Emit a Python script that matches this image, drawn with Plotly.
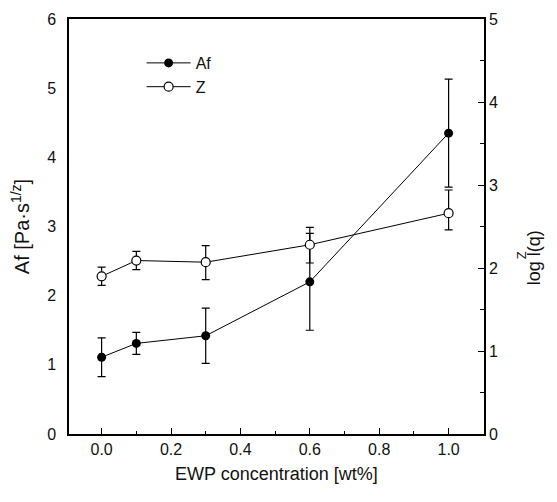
"""Af and Z versus EWP concentration, dual y axes."""
import plotly.graph_objects as go

# data
ewp = [0.0, 0.1, 0.3, 0.6, 1.0]
af = [1.11, 1.31, 1.42, 2.20, 4.35]
af_err = [0.28, 0.16, 0.40, 0.70, 0.78]
z = [1.90, 2.09, 2.07, 2.28, 2.66]
z_err_up = [0.11, 0.11, 0.20, 0.21, 0.28]
z_err_down = [0.11, 0.11, 0.21, 0.22, 0.20]

left_ticks = [0, 1, 2, 3, 4, 5, 6]
right_ticks = [0, 1, 2, 3, 4, 5]
x_ticks = [0.0, 0.2, 0.4, 0.6, 0.8, 1.0]
x_labels = ["0.0", "0.2", "0.4", "0.6", "0.8", "1.0"]

FONT = "Liberation Sans, Arial, sans-serif"

fig = go.Figure()
fig.add_trace(go.Scatter(
    x=ewp, y=af, name="Af", mode="lines+markers",
    line=dict(color="black", width=1),
    marker=dict(symbol="circle", size=9, color="black"),
    error_y=dict(type="data", array=af_err, color="black", thickness=1.2, width=4),
    yaxis="y",
))
fig.add_trace(go.Scatter(
    x=ewp, y=z, name="Z", mode="lines+markers",
    line=dict(color="black", width=1),
    marker=dict(symbol="circle", size=9, color="white",
                line=dict(color="black", width=1.2)),
    error_y=dict(type="data", symmetric=False, array=z_err_up,
                 arrayminus=z_err_down, color="black", thickness=1.2, width=4),
    yaxis="y2",
))

tick_style = dict(ticks="inside", ticklen=6, tickwidth=1.2, tickcolor="black",
                  minor=dict(dtick=0.5, ticks="inside", ticklen=4, tickcolor="black"))

# the page body has an 8px margin, so the figure is 8px smaller than the window
fig.update_layout(
    width=549, height=494,
    margin=dict(l=61, r=73, t=11, b=68),
    paper_bgcolor="white", plot_bgcolor="white",
    font=dict(family=FONT, size=16, color="#111"),
    showlegend=True,
    legend=dict(x=0.175, y=0.935, xanchor="left", yanchor="top",
                bgcolor="rgba(0,0,0,0)", font=dict(size=16),
                itemwidth=44, tracegroupgap=0),
    xaxis=dict(
        range=[-0.094, 1.102], tickvals=x_ticks, ticktext=x_labels,
        ticks="inside", ticklen=6, tickwidth=1.2, tickcolor="black",
        minor=dict(dtick=0.1, ticks="inside", ticklen=3, tickcolor="black"),
        showline=True, linecolor="black", linewidth=1.5, mirror=True,
        showgrid=False, zeroline=False, automargin=False,
        title=dict(text="EWP concentration [wt%]", font=dict(size=18), standoff=10),
    ),
    yaxis=dict(
        range=[0, 6], tickvals=left_ticks, ticks="",
        ticklabelstandoff=8,
        showline=True, linecolor="black", linewidth=1.5,
        showgrid=False, zeroline=False, automargin=False,
        title=dict(text="Af [Pa·s<sup>1/z</sup>]", font=dict(size=20), standoff=16),
    ),
    yaxis2=dict(
        range=[0, 5], tickvals=right_ticks, overlaying="y", side="right",
        **tick_style,
        showline=True, linecolor="black", linewidth=1.5,
        showgrid=False, zeroline=False, automargin=False,
    ),
    # tick marks along the left spine follow the right-hand 0-5 scale
    yaxis3=dict(
        range=[0, 5], tickvals=right_ticks, overlaying="y", side="left",
        **tick_style, showticklabels=False,
        showline=False, showgrid=False, zeroline=False, automargin=False,
    ),
    annotations=[
        dict(text="Z", xref="paper", yref="paper", x=1.114, y=0.43,
             textangle=-90, showarrow=False, font=dict(size=13)),
        dict(text="log l(q)", xref="paper", yref="paper", x=1.15, y=0.424,
             textangle=-90, showarrow=False, font=dict(size=18)),
    ],
)

fig.write_html("out.html")
